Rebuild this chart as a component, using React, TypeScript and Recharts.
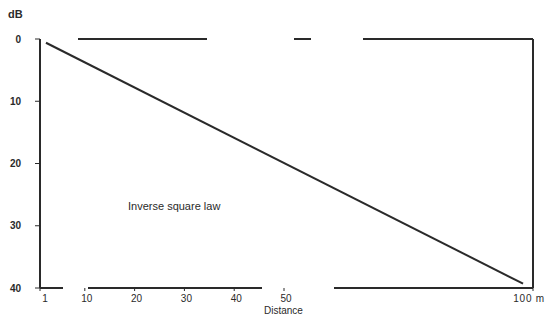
import React from "react";
import { LineChart, Line, XAxis, YAxis, ReferenceLine } from "recharts";

const distances = [2.2, 98];
const levels = [-0.6, -39.3];
const xTicks = [1, 10, 20, 30, 40, 50, 100];
const yTicks = [0, -10, -20, -30, -40];

const data = distances.map((d, i) => ({ d, db: levels[i] }));

const ink = "#2a2a2a";
const font = "'Liberation Sans', Arial, sans-serif";

const XTick = (props: any) => {
  const { x, y, payload } = props;
  const isLast = payload.value === 100;
  return (
    <text
      x={isLast ? x + 12 : payload.value === 1 ? x + 5 : x + 2}
      y={y + 9}
      textAnchor={isLast ? "end" : "middle"}
      fontSize={10}
      fontFamily={font}
      fill={ink}
      letterSpacing={isLast ? 0.8 : 0}
    >
      {isLast ? "100 m" : payload.value}
    </text>
  );
};

export default function App() {
  return (
    <div style={{ position: "absolute", left: 0, top: 0, width: 548, height: 325, background: "#fff" }}>
      <LineChart width={548} height={325} data={data} margin={{ top: 39, right: 15, bottom: 0, left: 0 }}>
        <XAxis
          dataKey="d"
          type="number"
          domain={[1, 100]}
          ticks={xTicks}
          interval={0}
          height={37}
          tickSize={3}
          tick={<XTick />}
          axisLine={{ stroke: ink, strokeWidth: 2, strokeDasharray: "23 25 174 72 200" }}
          tickLine={{ stroke: ink }}
        />
        <YAxis
          type="number"
          domain={[-40, 0]}
          ticks={yTicks}
          interval={0}
          width={40}
          tickSize={5}
          tickMargin={14}
          tickFormatter={(v: number) => String(Math.abs(v))}
          tick={{ fontSize: 10, fontFamily: font, fill: ink, fontWeight: "bold" }}
          axisLine={{ stroke: ink, strokeWidth: 2 }}
          tickLine={{ stroke: ink }}
        />
        <ReferenceLine y={0} stroke={ink} strokeWidth={2} strokeDasharray="0 38 129 87 17 52 175" />
        <ReferenceLine x={100} stroke={ink} strokeWidth={2} />
        <Line
          dataKey="db"
          stroke={ink}
          strokeWidth={2}
          dot={false}
          isAnimationActive={false}
        />
      </LineChart>
      <div style={{ position: "absolute", left: 8, top: 8, fontSize: 11, fontFamily: font, color: ink, fontWeight: "bold" }}>
        dB
      </div>
      <div style={{ position: "absolute", left: 128, top: 200, fontSize: 11, fontFamily: font, color: ink }}>
        Inverse square law
      </div>
      <div style={{ position: "absolute", left: 264, top: 305, fontSize: 10, fontFamily: font, color: ink }}>
        Distance
      </div>
    </div>
  );
}
